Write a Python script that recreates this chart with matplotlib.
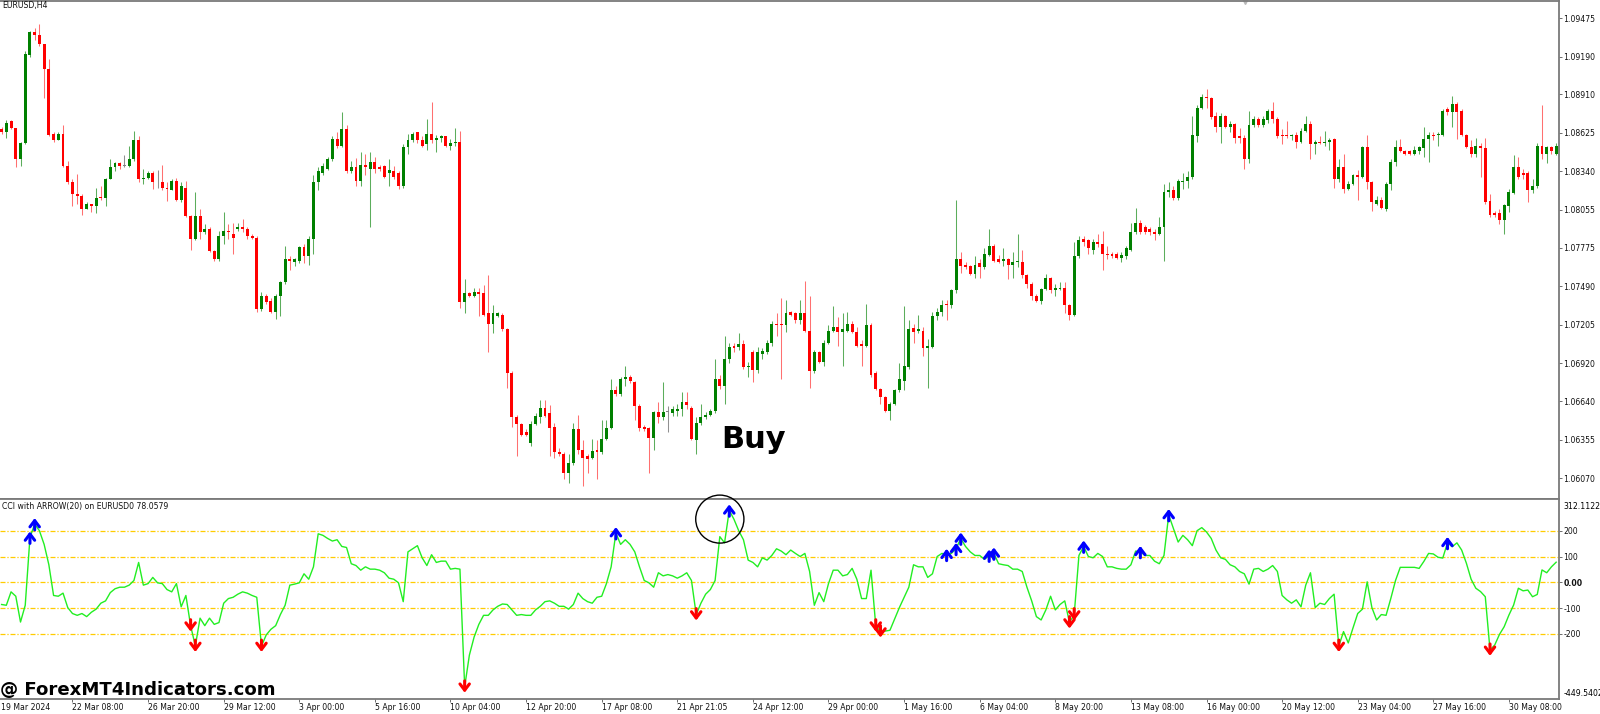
import numpy as np
import matplotlib
matplotlib.use("Agg")
from matplotlib import pyplot as plt
from matplotlib.patches import Ellipse

# EURUSD H4 candles, one per bar
opens = [
    1.0865, 1.0863, 1.0871, 1.0866, 1.0843, 1.0855, 1.0920, 1.0937, 1.0935, 1.0928,
    1.0910, 1.0862, 1.0857, 1.0862, 1.0838, 1.0826, 1.0817, 1.0816, 1.0806, 1.0810,
    1.0808, 1.0815, 1.0814, 1.0828, 1.0837, 1.0840, 1.0838, 1.0838, 1.0843, 1.0857,
    1.0828, 1.0829, 1.0833, 1.0826, 1.0826, 1.0822, 1.0820, 1.0827, 1.0813, 1.0822,
    1.0801, 1.0784, 1.0801, 1.0789, 1.0791, 1.0775, 1.0769, 1.0786, 1.0790, 1.0788,
    1.0791, 1.0793, 1.0791, 1.0786, 1.0785, 1.0732, 1.0742, 1.0738, 1.0730, 1.0742,
    1.0752, 1.0769, 1.0767, 1.0768, 1.0778, 1.0771, 1.0784, 1.0826, 1.0833, 1.0836,
    1.0843, 1.0858, 1.0853, 1.0865, 1.0834, 1.0837, 1.0827, 1.0839, 1.0836, 1.0841,
    1.0837, 1.0838, 1.0833, 1.0834, 1.0833, 1.0823, 1.0852, 1.0857, 1.0863, 1.0857,
    1.0854, 1.0862, 1.0857, 1.0859, 1.0860, 1.0853, 1.0855, 1.0856, 1.0737, 1.0744,
    1.0742, 1.0745, 1.0744, 1.0729, 1.0721, 1.0727, 1.0728, 1.0717, 1.0685, 1.0652,
    1.0647, 1.0641, 1.0633, 1.0647, 1.0652, 1.0659, 1.0655, 1.0645, 1.0626, 1.0625,
    1.0611, 1.0618, 1.0643, 1.0628, 1.0623, 1.0622, 1.0628, 1.0626, 1.0636, 1.0644,
    1.0672, 1.0669, 1.0680, 1.0682, 1.0678, 1.0660, 1.0645, 1.0644, 1.0637, 1.0656,
    1.0652, 1.0656, 1.0655, 1.0657, 1.0658, 1.0663, 1.0659, 1.0635, 1.0648, 1.0652,
    1.0654, 1.0657, 1.0680, 1.0675, 1.0695, 1.0705, 1.0704, 1.0706, 1.0689, 1.0700,
    1.0687, 1.0699, 1.0700, 1.0707, 1.0721, 1.0721, 1.0720, 1.0730, 1.0729, 1.0724,
    1.0729, 1.0716, 1.0686, 1.0700, 1.0693, 1.0707, 1.0716, 1.0719, 1.0715, 1.0716,
    1.0721, 1.0715, 1.0706, 1.0705, 1.0720, 1.0685, 1.0673, 1.0667, 1.0657, 1.0662,
    1.0672, 1.0679, 1.0689, 1.0718, 1.0716, 1.0716, 1.0703, 1.0704, 1.0727, 1.0730,
    1.0736, 1.0735, 1.0746, 1.0769, 1.0765, 1.0764, 1.0758, 1.0766, 1.0763, 1.0772,
    1.0779, 1.0769, 1.0768, 1.0769, 1.0765, 1.0767, 1.0767, 1.0757, 1.0751, 1.0742,
    1.0738, 1.0747, 1.0755, 1.0746, 1.0747, 1.0748, 1.0735, 1.0728, 1.0771, 1.0784,
    1.0783, 1.0776, 1.0782, 1.0780, 1.0773, 1.0773, 1.0773, 1.0770, 1.0771, 1.0776,
    1.0789, 1.0796, 1.0793, 1.0791, 1.0789, 1.0788, 1.0793, 1.0819, 1.0820, 1.0814,
    1.0826, 1.0827, 1.0830, 1.0860, 1.0881, 1.0889, 1.0888, 1.0875, 1.0867, 1.0875,
    1.0867, 1.0869, 1.0860, 1.0859, 1.0843, 1.0868, 1.0873, 1.0868, 1.0872, 1.0879,
    1.0873, 1.0861, 1.0861, 1.0860, 1.0861, 1.0856, 1.0864, 1.0869, 1.0854, 1.0856,
    1.0855, 1.0856, 1.0858, 1.0828, 1.0837, 1.0821, 1.0825, 1.0831, 1.0830, 1.0852,
    1.0826, 1.0810, 1.0813, 1.0806, 1.0825, 1.0841, 1.0852, 1.0849, 1.0849, 1.0847,
    1.0849, 1.0851, 1.0858, 1.0861, 1.0861, 1.0861, 1.0880, 1.0878, 1.0884, 1.0879,
    1.0861, 1.0852, 1.0847, 1.0853, 1.0851, 1.0812, 1.0803, 1.0803, 1.0798, 1.0808,
    1.0818, 1.0837, 1.0833, 1.0833, 1.0820, 1.0823, 1.0853, 1.0847, 1.0852, 1.0847,
]
highs = [
    1.0867, 1.0872, 1.0872, 1.0866, 1.0856, 1.0923, 1.0938, 1.0940, 1.0943, 1.0928,
    1.0917, 1.0863, 1.0863, 1.0868, 1.0842, 1.0828, 1.0832, 1.0817, 1.0811, 1.0810,
    1.0822, 1.0823, 1.0829, 1.0843, 1.0841, 1.0841, 1.0846, 1.0853, 1.0864, 1.0860,
    1.0836, 1.0834, 1.0834, 1.0835, 1.0839, 1.0826, 1.0828, 1.0829, 1.0826, 1.0827,
    1.0802, 1.0819, 1.0806, 1.0795, 1.0793, 1.0776, 1.0790, 1.0804, 1.0795, 1.0796,
    1.0796, 1.0799, 1.0793, 1.0788, 1.0786, 1.0745, 1.0743, 1.0740, 1.0743, 1.0753,
    1.0779, 1.0771, 1.0770, 1.0779, 1.0780, 1.0786, 1.0831, 1.0837, 1.0840, 1.0845,
    1.0860, 1.0863, 1.0878, 1.0868, 1.0842, 1.0844, 1.0848, 1.0847, 1.0848, 1.0845,
    1.0839, 1.0839, 1.0843, 1.0838, 1.0834, 1.0854, 1.0862, 1.0863, 1.0863, 1.0860,
    1.0873, 1.0885, 1.0861, 1.0861, 1.0860, 1.0858, 1.0866, 1.0864, 1.0754, 1.0745,
    1.0748, 1.0748, 1.0750, 1.0757, 1.0735, 1.0730, 1.0729, 1.0718, 1.0686, 1.0654,
    1.0648, 1.0643, 1.0649, 1.0655, 1.0665, 1.0665, 1.0661, 1.0648, 1.0629, 1.0626,
    1.0625, 1.0648, 1.0654, 1.0635, 1.0625, 1.0636, 1.0635, 1.0650, 1.0650, 1.0680,
    1.0675, 1.0682, 1.0690, 1.0683, 1.0679, 1.0662, 1.0646, 1.0645, 1.0657, 1.0663,
    1.0678, 1.0660, 1.0660, 1.0662, 1.0671, 1.0671, 1.0660, 1.0652, 1.0662, 1.0656,
    1.0658, 1.0695, 1.0683, 1.0712, 1.0707, 1.0707, 1.0714, 1.0709, 1.0693, 1.0702,
    1.0704, 1.0703, 1.0709, 1.0723, 1.0729, 1.0740, 1.0739, 1.0731, 1.0730, 1.0739,
    1.0753, 1.0742, 1.0702, 1.0701, 1.0709, 1.0720, 1.0734, 1.0726, 1.0729, 1.0730,
    1.0723, 1.0719, 1.0709, 1.0736, 1.0722, 1.0686, 1.0674, 1.0668, 1.0663, 1.0673,
    1.0692, 1.0734, 1.0724, 1.0721, 1.0728, 1.0719, 1.0710, 1.0730, 1.0733, 1.0739,
    1.0739, 1.0747, 1.0813, 1.0774, 1.0767, 1.0765, 1.0771, 1.0769, 1.0777, 1.0791,
    1.0780, 1.0772, 1.0777, 1.0770, 1.0774, 1.0788, 1.0776, 1.0758, 1.0752, 1.0743,
    1.0748, 1.0758, 1.0756, 1.0751, 1.0752, 1.0752, 1.0736, 1.0782, 1.0786, 1.0786,
    1.0784, 1.0784, 1.0788, 1.0790, 1.0779, 1.0774, 1.0774, 1.0774, 1.0779, 1.0796,
    1.0807, 1.0798, 1.0794, 1.0793, 1.0791, 1.0800, 1.0825, 1.0826, 1.0823, 1.0828,
    1.0833, 1.0834, 1.0875, 1.0883, 1.0891, 1.0895, 1.0889, 1.0878, 1.0877, 1.0876,
    1.0871, 1.0870, 1.0866, 1.0861, 1.0879, 1.0875, 1.0874, 1.0875, 1.0880, 1.0885,
    1.0874, 1.0865, 1.0871, 1.0862, 1.0863, 1.0866, 1.0875, 1.0871, 1.0857, 1.0860,
    1.0864, 1.0859, 1.0859, 1.0843, 1.0847, 1.0827, 1.0832, 1.0835, 1.0853, 1.0861,
    1.0827, 1.0816, 1.0815, 1.0826, 1.0843, 1.0857, 1.0858, 1.0850, 1.0850, 1.0853,
    1.0853, 1.0867, 1.0863, 1.0863, 1.0863, 1.0880, 1.0882, 1.0890, 1.0885, 1.0880,
    1.0862, 1.0857, 1.0859, 1.0855, 1.0859, 1.0817, 1.0805, 1.0806, 1.0810, 1.0821,
    1.0846, 1.0845, 1.0836, 1.0834, 1.0828, 1.0855, 1.0883, 1.0853, 1.0853, 1.0855,
]
lows = [
    1.0862, 1.0859, 1.0865, 1.0837, 1.0838, 1.0854, 1.0919, 1.0931, 1.0927, 1.0888,
    1.0860, 1.0856, 1.0857, 1.0837, 1.0825, 1.0808, 1.0810, 1.0802, 1.0806, 1.0804,
    1.0803, 1.0813, 1.0808, 1.0828, 1.0834, 1.0836, 1.0837, 1.0837, 1.0842, 1.0826,
    1.0825, 1.0828, 1.0821, 1.0822, 1.0820, 1.0812, 1.0820, 1.0812, 1.0811, 1.0800,
    1.0776, 1.0783, 1.0784, 1.0788, 1.0774, 1.0768, 1.0768, 1.0780, 1.0784, 1.0773,
    1.0790, 1.0789, 1.0784, 1.0784, 1.0730, 1.0731, 1.0736, 1.0729, 1.0725, 1.0727,
    1.0751, 1.0761, 1.0764, 1.0766, 1.0766, 1.0765, 1.0773, 1.0820, 1.0831, 1.0835,
    1.0842, 1.0851, 1.0852, 1.0833, 1.0833, 1.0823, 1.0823, 1.0831, 1.0793, 1.0833,
    1.0834, 1.0829, 1.0823, 1.0828, 1.0821, 1.0822, 1.0847, 1.0856, 1.0855, 1.0852,
    1.0850, 1.0855, 1.0848, 1.0856, 1.0852, 1.0850, 1.0853, 1.0733, 1.0729, 1.0741,
    1.0741, 1.0727, 1.0727, 1.0700, 1.0714, 1.0726, 1.0716, 1.0674, 1.0645, 1.0623,
    1.0638, 1.0638, 1.0631, 1.0646, 1.0648, 1.0652, 1.0623, 1.0622, 1.0623, 1.0606,
    1.0603, 1.0617, 1.0625, 1.0601, 1.0611, 1.0621, 1.0606, 1.0625, 1.0635, 1.0643,
    1.0668, 1.0668, 1.0675, 1.0677, 1.0650, 1.0642, 1.0642, 1.0611, 1.0628, 1.0648,
    1.0650, 1.0641, 1.0653, 1.0653, 1.0653, 1.0658, 1.0635, 1.0625, 1.0646, 1.0651,
    1.0653, 1.0655, 1.0673, 1.0662, 1.0692, 1.0700, 1.0702, 1.0688, 1.0682, 1.0678,
    1.0685, 1.0695, 1.0699, 1.0705, 1.0712, 1.0680, 1.0715, 1.0727, 1.0722, 1.0721,
    1.0715, 1.0674, 1.0685, 1.0692, 1.0690, 1.0706, 1.0715, 1.0705, 1.0690, 1.0715,
    1.0714, 1.0704, 1.0690, 1.0704, 1.0682, 1.0672, 1.0662, 1.0656, 1.0650, 1.0661,
    1.0671, 1.0672, 1.0688, 1.0707, 1.0714, 1.0697, 1.0674, 1.0703, 1.0724, 1.0727,
    1.0724, 1.0733, 1.0744, 1.0759, 1.0762, 1.0757, 1.0755, 1.0755, 1.0762, 1.0771,
    1.0767, 1.0766, 1.0764, 1.0754, 1.0755, 1.0763, 1.0755, 1.0748, 1.0739, 1.0737,
    1.0736, 1.0746, 1.0744, 1.0742, 1.0746, 1.0729, 1.0724, 1.0727, 1.0770, 1.0779,
    1.0773, 1.0773, 1.0778, 1.0761, 1.0769, 1.0770, 1.0769, 1.0767, 1.0769, 1.0775,
    1.0788, 1.0788, 1.0788, 1.0787, 1.0783, 1.0787, 1.0768, 1.0815, 1.0813, 1.0813,
    1.0821, 1.0822, 1.0828, 1.0856, 1.0880, 1.0881, 1.0873, 1.0863, 1.0855, 1.0866,
    1.0863, 1.0855, 1.0855, 1.0836, 1.0840, 1.0867, 1.0867, 1.0867, 1.0870, 1.0870,
    1.0859, 1.0854, 1.0859, 1.0857, 1.0851, 1.0855, 1.0863, 1.0843, 1.0847, 1.0854,
    1.0853, 1.0850, 1.0822, 1.0826, 1.0818, 1.0820, 1.0824, 1.0813, 1.0829, 1.0821,
    1.0805, 1.0809, 1.0806, 1.0805, 1.0820, 1.0838, 1.0848, 1.0846, 1.0846, 1.0846,
    1.0847, 1.0845, 1.0841, 1.0857, 1.0853, 1.0860, 1.0876, 1.0867, 1.0858, 1.0860,
    1.0851, 1.0845, 1.0845, 1.0830, 1.0810, 1.0800, 1.0800, 1.0795, 1.0788, 1.0804,
    1.0817, 1.0828, 1.0828, 1.0811, 1.0818, 1.0822, 1.0843, 1.0840, 1.0847, 1.0846,
]
closes = [
    1.0863, 1.0870, 1.0866, 1.0843, 1.0855, 1.0921, 1.0937, 1.0935, 1.0928, 1.0910,
    1.0861, 1.0857, 1.0862, 1.0838, 1.0826, 1.0817, 1.0816, 1.0806, 1.0810, 1.0808,
    1.0814, 1.0814, 1.0828, 1.0837, 1.0840, 1.0838, 1.0838, 1.0843, 1.0857, 1.0828,
    1.0829, 1.0833, 1.0826, 1.0826, 1.0822, 1.0821, 1.0827, 1.0813, 1.0823, 1.0801,
    1.0784, 1.0801, 1.0789, 1.0791, 1.0775, 1.0769, 1.0786, 1.0790, 1.0789, 1.0785,
    1.0793, 1.0791, 1.0786, 1.0785, 1.0732, 1.0742, 1.0737, 1.0730, 1.0742, 1.0752,
    1.0769, 1.0768, 1.0769, 1.0778, 1.0771, 1.0784, 1.0826, 1.0834, 1.0838, 1.0843,
    1.0858, 1.0853, 1.0865, 1.0834, 1.0837, 1.0827, 1.0839, 1.0837, 1.0841, 1.0836,
    1.0836, 1.0830, 1.0835, 1.0830, 1.0823, 1.0852, 1.0857, 1.0862, 1.0857, 1.0853,
    1.0862, 1.0857, 1.0859, 1.0860, 1.0853, 1.0855, 1.0856, 1.0737, 1.0744, 1.0742,
    1.0745, 1.0743, 1.0728, 1.0721, 1.0729, 1.0729, 1.0717, 1.0685, 1.0652, 1.0647,
    1.0639, 1.0639, 1.0647, 1.0653, 1.0659, 1.0653, 1.0644, 1.0626, 1.0625, 1.0611,
    1.0618, 1.0643, 1.0628, 1.0622, 1.0621, 1.0627, 1.0626, 1.0636, 1.0644, 1.0672,
    1.0669, 1.0680, 1.0682, 1.0679, 1.0660, 1.0644, 1.0643, 1.0637, 1.0656, 1.0652,
    1.0656, 1.0656, 1.0658, 1.0658, 1.0663, 1.0661, 1.0636, 1.0648, 1.0652, 1.0654,
    1.0657, 1.0680, 1.0675, 1.0695, 1.0704, 1.0703, 1.0706, 1.0689, 1.0690, 1.0687,
    1.0700, 1.0701, 1.0707, 1.0721, 1.0720, 1.0720, 1.0729, 1.0728, 1.0724, 1.0729,
    1.0716, 1.0686, 1.0700, 1.0693, 1.0707, 1.0716, 1.0719, 1.0715, 1.0717, 1.0721,
    1.0715, 1.0705, 1.0705, 1.0720, 1.0683, 1.0673, 1.0667, 1.0657, 1.0662, 1.0672,
    1.0680, 1.0690, 1.0717, 1.0715, 1.0717, 1.0703, 1.0705, 1.0727, 1.0730, 1.0735,
    1.0735, 1.0746, 1.0769, 1.0764, 1.0763, 1.0758, 1.0765, 1.0763, 1.0773, 1.0779,
    1.0768, 1.0767, 1.0769, 1.0765, 1.0767, 1.0768, 1.0757, 1.0751, 1.0742, 1.0738,
    1.0747, 1.0755, 1.0746, 1.0748, 1.0748, 1.0735, 1.0728, 1.0771, 1.0783, 1.0782,
    1.0777, 1.0782, 1.0780, 1.0773, 1.0772, 1.0771, 1.0770, 1.0772, 1.0777, 1.0789,
    1.0796, 1.0789, 1.0789, 1.0789, 1.0788, 1.0793, 1.0819, 1.0820, 1.0814, 1.0827,
    1.0827, 1.0830, 1.0861, 1.0881, 1.0889, 1.0888, 1.0874, 1.0867, 1.0875, 1.0867,
    1.0869, 1.0859, 1.0859, 1.0843, 1.0868, 1.0873, 1.0868, 1.0873, 1.0879, 1.0873,
    1.0860, 1.0860, 1.0860, 1.0861, 1.0856, 1.0864, 1.0869, 1.0854, 1.0856, 1.0855,
    1.0856, 1.0857, 1.0828, 1.0837, 1.0821, 1.0825, 1.0831, 1.0830, 1.0852, 1.0826,
    1.0811, 1.0813, 1.0807, 1.0825, 1.0841, 1.0852, 1.0849, 1.0847, 1.0847, 1.0850,
    1.0852, 1.0858, 1.0861, 1.0860, 1.0862, 1.0879, 1.0878, 1.0884, 1.0878, 1.0861,
    1.0852, 1.0847, 1.0853, 1.0851, 1.0811, 1.0802, 1.0802, 1.0798, 1.0809, 1.0819,
    1.0837, 1.0830, 1.0831, 1.0820, 1.0823, 1.0853, 1.0847, 1.0852, 1.0849, 1.0853,
]

# CCI(20) line of the lower window, one value per bar
cci = [
    -86, -89, -37, -54, -154, -89, 174, 226, 200, 147,
    68, -51, -54, -42, -98, -121, -128, -121, -133, -116,
    -104, -81, -72, -40, -25, -19, -19, -11, 7, 77,
    -11, -5, 19, -2, -5, -28, -37, -5, -95, -51,
    -168, -247, -139, -168, -139, -163, -156, -81, -63, -58,
    -46, -37, -42, -51, -58, -247, -204, -182, -168, -125,
    -89, -11, -7, -2, 33, 12, 60, 188, 182, 170,
    160, 165, 139, 135, 72, 65, 47, 60, 51, 51,
    47, 37, 16, 12, -2, -75, 118, 130, 142, 95,
    65, 107, 77, 82, 82, 51, 54, 51, -405, -282,
    -212, -163, -128, -128, -107, -93, -84, -86, -107, -128,
    -125, -128, -128, -107, -93, -75, -72, -81, -93, -93,
    -104, -86, -42, -63, -75, -81, -58, -54, -5, 60,
    191, 147, 165, 147, 118, 60, 7, -2, -19, 37,
    25, 30, 25, 16, 25, 37, 7, -125, -81, -46,
    -28, 7, 177, 153, 279, 244, 200, 165, 86, 77,
    60, 95, 86, 104, 130, 121, 107, 125, 112, 100,
    112, 42, -89, -40, -75, -5, 47, 47, 25, 30,
    54, 12, -63, -63, 47, -168, -191, -189, -186, -142,
    -98, -58, -19, 68, 60, 60, 19, 33, 100, 112,
    107, 112, 130, 170, 139, 118, 104, 104, 89, 104,
    112, 72, 68, 65, 51, 51, 42, -19, -72, -133,
    -146, -107, -54, -107, -86, -72, -156, -125, 104, 139,
    100, 95, 112, 100, 60, 60, 54, 51, 51, 68,
    121, 118, 104, 104, 82, 72, 104, 261, 209, 156,
    182, 165, 142, 200, 212, 195, 170, 125, 95, 89,
    68, 60, 42, 33, -7, 51, 54, 42, 51, 65,
    42, -51, -68, -81, -68, -95, -11, 37, -98, -81,
    -86, -63, -46, -247, -191, -235, -177, -121, -104, 2,
    -98, -146, -125, -128, -63, 7, 58, 58, 58, 58,
    54, 81, 112, 110, 97, 94, 153, 138, 153, 125,
    74, 12, -23, -36, -56, -262, -243, -202, -172, -127,
    -88, -23, -33, -30, -56, -47, 48, 37, 60, 78,
]

# bars that carry a signal arrow
buy_arrows = [6, 7, 130, 154, 200, 202, 203, 209, 210, 229, 241, 247, 306]
sell_arrows = [40, 41, 55, 98, 147, 185, 186, 226, 227, 283, 315]

price_ticks = [1.09475, 1.09190, 1.08910, 1.08625, 1.08340, 1.08055, 1.07775,
               1.07490, 1.07205, 1.06920, 1.06640, 1.06355, 1.06070]
cci_levels = [200, 100, 0, -100, -200]
cci_level_labels = ["200", "100", "0.00", "-100", "-200"]
cci_max, cci_min = 312.1122, -449.5402

date_bars = [15, 31, 47, 63, 79, 95, 111, 127, 143, 159,
             175, 191, 207, 223, 239, 255, 271, 287, 303, 319]
date_labels = ["22 Mar 08:00", "26 Mar 20:00", "29 Mar 12:00", "3 Apr 00:00",
               "5 Apr 16:00", "10 Apr 04:00", "12 Apr 20:00", "17 Apr 08:00",
               "21 Apr 21:05", "24 Apr 12:00", "29 Apr 00:00", "1 May 16:00",
               "6 May 04:00", "8 May 20:00", "13 May 08:00", "16 May 00:00",
               "20 May 12:00", "23 May 04:00", "27 May 16:00", "30 May 08:00"]

plt.rcParams['font.family'] = ['DejaVu Sans']
SMALL = 5.6
W, H = 1600, 714


def px_box(top, bottom, right=1559):
    # axes rectangle from pixel rows of the 1600x714 canvas
    return [0, (H - bottom) / H, right / W, (bottom - top) / H]


def style_axes(ax):
    ax.set_facecolor('white')
    ax.spines['left'].set_visible(False)
    for side in ('top', 'bottom', 'right'):
        ax.spines[side].set_color('#7a7a7a')
        ax.spines[side].set_linewidth(1.3)
    ax.yaxis.tick_right()
    ax.tick_params(axis='y', direction='out', length=2, width=0.6, color='#555555',
                   labelsize=SMALL, pad=1.2, labelcolor='#111111')


fig = plt.figure(figsize=(16, 7.14), dpi=100, facecolor='white')
ax = fig.add_axes(px_box(1, 499))
ax2 = fig.add_axes(px_box(499, 699))
style_axes(ax)
style_axes(ax2)

o = np.array(opens)
h = np.array(highs)
l = np.array(lows)
c = np.array(closes)
x = np.arange(len(c))

body_col = np.where(c > o, '#008000', np.where(c < o, '#ff0000', '#808080'))
wick_col = np.where(c > o, '#5cad5c', np.where(c < o, '#ff7070', '#909090'))

# candles: thin wicks behind, bodies on top
ax.vlines(x, l, h, colors=wick_col, linewidth=0.75, zorder=1)
ax.bar(x, np.maximum(np.abs(c - o), 0.00005), bottom=np.minimum(o, c), width=0.62,
       color=body_col, linewidth=0, zorder=2)

ax.set_xlim(-0.34, 329.6)
ax.set_ylim(1.05915, 1.09601)
ax.set_xticks([])
ax.set_yticks(price_ticks)
ax.set_yticklabels([f"{p:.5f}" for p in price_ticks])

ax.text(0.0012, 0.99, "EURUSD,H4", transform=ax.transAxes, fontsize=SMALL,
        va='center', ha='left', color='#111111')
ax.text(152.4, 1.0629, "Buy", fontsize=22, fontweight='bold', va='baseline', ha='left')
# chart shift marker at the top edge
ax.plot([263.2], [1.0], marker='v', ms=5, color='#b8b8b8', transform=ax.get_xaxis_transform(),
        clip_on=False)

# CCI window
for lev in cci_levels:
    ax2.axhline(lev, color='#ffcc00', lw=0.9, linestyle=(0, (4, 1.5, 1, 1.5)), zorder=1)
ax2.plot(x, cci, color='#22ee22', lw=1.0, zorder=2)


def signal_arrow(bar, up, color):
    v = cci[bar]
    start, end = (v - 23, v + 23) if up else (v + 23, v - 23)
    ax2.annotate('', xy=(bar, end), xytext=(bar, start), annotation_clip=False,
                 arrowprops=dict(arrowstyle='->,head_length=0.45,head_width=0.34',
                                 color=color, lw=2.2, shrinkA=0, shrinkB=0), zorder=4)


for b in buy_arrows:
    signal_arrow(b, True, '#0000ff')
for b in sell_arrows:
    signal_arrow(b, False, '#ff0000')

ax2.add_patch(Ellipse((152.0, 245), 10.2, 186, fill=False, ec='black', lw=1.0,
                      clip_on=False, zorder=5))

ax2.set_xlim(-0.34, 329.6)
ax2.set_ylim(-452.3, 322.9)
ax2.set_yticks(cci_levels)
ax2.set_yticklabels(cci_level_labels)
for lbl in ax2.get_yticklabels():
    if lbl.get_text() == "0.00":
        lbl.set_fontweight('bold')
ax2.annotate(f"{cci_max:.4f}", xy=(1, cci_max), xycoords=('axes fraction', 'data'),
             xytext=(3, 0), textcoords='offset points', va='top', ha='left', fontsize=SMALL)
ax2.annotate(f"{cci_min:.4f}", xy=(1, cci_min), xycoords=('axes fraction', 'data'),
             xytext=(3, 0), textcoords='offset points', va='bottom', ha='left', fontsize=SMALL)

ax2.set_xticks(date_bars)
ax2.set_xticklabels(date_labels)
ax2.tick_params(axis='x', direction='out', length=2.2, width=0.6, color='#555555',
                labelsize=SMALL, pad=1.0, labelcolor='#111111')
for lbl in ax2.get_xticklabels():
    lbl.set_ha('left')

ax2.text(0.0012, 0.96, f"CCI with ARROW(20) on EURUSD0 {cci[-1] + 0.0579:.4f}",
         transform=ax2.transAxes, fontsize=SMALL, va='center', ha='left', color='#111111')

fig.text(0.0006, (H - 707) / H, "19 Mar 2024", fontsize=SMALL, va='center', ha='left',
         color='#111111')
fig.text(0.0, (H - 695.5) / H, "@ ForexMT4Indicators.com", fontsize=13.1,
         fontweight='bold', family='DejaVu Sans', va='baseline', ha='left')

fig.savefig("out.png", dpi=100, facecolor='white')
